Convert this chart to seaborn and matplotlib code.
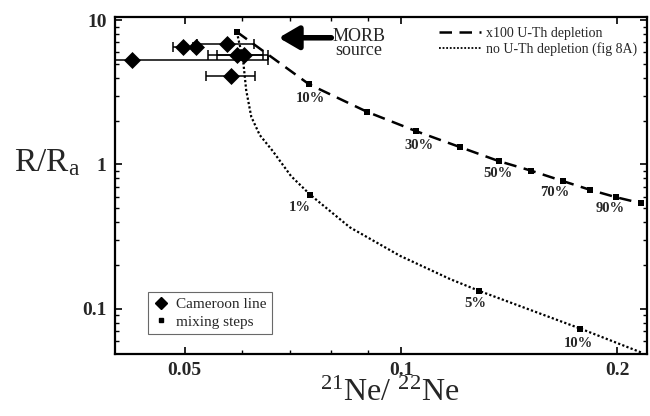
import matplotlib
matplotlib.use("Agg")
import matplotlib.pyplot as plt
import numpy as np
import pandas as pd
import seaborn as sns
from matplotlib.lines import Line2D
from matplotlib.ticker import FixedLocator, NullFormatter, FixedFormatter

# ---------------- data ----------------
# Cameroon line samples
cam_x = [0.0423, 0.0497, 0.0519, 0.0572, 0.0591, 0.0604, 0.0581]
cam_y = [5.25, 6.53, 6.53, 6.81, 5.72, 5.72, 4.08]
cam_xerr = [0.023, 0.0016, 0.0, 0.0052, 0.0052, 0.0050, 0.0045]

# x100 U-Th depletion mixing curve (steps 0..100 %)
dash_x = [0.0591, 0.0745, 0.0898, 0.1050, 0.1208, 0.1369, 0.1515, 0.1682, 0.1834, 0.1993, 0.2159]
dash_y = [8.28, 3.59, 2.31, 1.70, 1.32, 1.054, 0.908, 0.766, 0.667, 0.593, 0.539]
dash_labels = ["", "10%", "", "30%", "", "50%", "", "70%", "", "90%", ""]

# no U-Th depletion curve
dot_x = [0.0591, 0.0603, 0.0609, 0.0619, 0.0636, 0.0663, 0.0703, 0.0748,
         0.0849, 0.0997, 0.1170, 0.1284, 0.1776, 0.2164]
dot_y = [8.28, 5.28, 3.27, 2.14, 1.60, 1.24, 0.832, 0.616,
         0.367, 0.233, 0.161, 0.1334, 0.0731, 0.0497]
# mixing steps on the no-depletion curve
dot_step_x = [0.0748, 0.1284, 0.1776]
dot_step_y = [0.616, 0.1334, 0.0731]
dot_step_labels = ["1%", "5%", "10%"]

x_ticks = [0.05, 0.1, 0.2]
x_ticklabels = ["0.05", "0.1", "0.2"]
y_ticks = [0.1, 1, 10]
y_ticklabels = ["0.1", "1", "10"]

# ---------------- style ----------------
sns.set_style("ticks")
plt.rcParams["font.family"] = ["Liberation Serif", "DejaVu Serif"]
plt.rcParams["mathtext.fontset"] = "custom"
plt.rcParams["mathtext.rm"] = "Liberation Serif"
plt.rcParams["mathtext.it"] = "Liberation Serif:italic"

fig = plt.figure(figsize=(6.5, 4.16), dpi=100)
ax = fig.add_axes([115/650, 1-354/416, (647-115)/650, (354-17)/416])

ax.set_xscale("log")
ax.set_yscale("log")
ax.set_xlim(0.04, 0.22)
ax.set_ylim(0.0487, 10.5)

df_dash = pd.DataFrame({"x": dash_x, "y": dash_y})
df_dot = pd.DataFrame({"x": dot_x, "y": dot_y})
df_cam = pd.DataFrame({"x": cam_x, "y": cam_y})
df_steps = pd.DataFrame({"x": dash_x + dot_step_x, "y": dash_y + dot_step_y})

sns.lineplot(data=df_dash, x="x", y="y", sort=False, estimator=None, ax=ax,
             color="black", lw=1.8, linestyle=(0, (5, 3)))
sns.lineplot(data=df_dot, x="x", y="y", sort=False, estimator=None, ax=ax,
             color="black", lw=1.6, linestyle=(0, (1, 1)))
sns.scatterplot(data=df_steps, x="x", y="y", marker="s", s=14, color="black",
                linewidth=0, ax=ax, zorder=5)

ax.errorbar(cam_x, cam_y, xerr=cam_xerr, fmt="none", ecolor="black",
            elinewidth=1.1, capsize=3.5, capthick=1.1, zorder=4)
sns.scatterplot(data=df_cam, x="x", y="y", marker="D", s=75, color="black",
                linewidth=0, ax=ax, zorder=6)

# percent labels
dash_offsets = {"10%": (1, -14), "30%": (3, -14), "50%": (-1, -12),
                "70%": (-8, -11), "90%": (-6, -11)}
for x, y, lab in zip(dash_x, dash_y, dash_labels):
    if lab:
        ax.annotate(lab, (x, y), xytext=dash_offsets[lab], textcoords="offset pixels",
                    ha="center", va="center", fontsize=10.5, fontweight="bold")
dot_offsets = {"1%": (-11, -13), "5%": (-4, -13), "10%": (-2, -15)}
for x, y, lab in zip(dot_step_x, dot_step_y, dot_step_labels):
    ax.annotate(lab, (x, y), xytext=dot_offsets[lab], textcoords="offset pixels",
                ha="center", va="center", fontsize=10.5, fontweight="bold")

# MORB source arrow
ax.annotate("", xy=(0.0676, 7.54), xytext=(0.0800, 7.54),
            arrowprops=dict(arrowstyle="-|>,head_length=0.6,head_width=0.35",
                            lw=4, color="black", mutation_scale=20,
                            shrinkA=0, shrinkB=0))
ax.text(0.0873, 6.87, "MORB\nsource", ha="center", va="center", fontsize=13,
        linespacing=0.72)

# ticks
ax.xaxis.set_major_locator(FixedLocator(x_ticks))
ax.xaxis.set_major_formatter(FixedFormatter(x_ticklabels))
ax.xaxis.set_minor_locator(FixedLocator([0.06, 0.07, 0.08, 0.09]))
ax.xaxis.set_minor_formatter(NullFormatter())
ax.yaxis.set_major_locator(FixedLocator(y_ticks))
ax.yaxis.set_major_formatter(FixedFormatter(y_ticklabels))
ax.yaxis.set_minor_locator(FixedLocator([0.06, 0.07, 0.08, 0.09] +
                                        [0.2, 0.3, 0.4, 0.5, 0.6, 0.7, 0.8, 0.9] +
                                        [2, 3, 4, 5, 6, 7, 8, 9]))
ax.yaxis.set_minor_formatter(NullFormatter())
ax.tick_params(which="both", direction="in", top=True, right=True, color="black")
ax.tick_params(which="major", length=5, width=1.2, labelsize=14, pad=6)
ax.tick_params(which="minor", length=3, width=1.0)
for lab in ax.get_xticklabels() + ax.get_yticklabels():
    lab.set_fontweight("bold")
for sp in ax.spines.values():
    sp.set_linewidth(1.6)
    sp.set_color("black")

ax.set_xlabel(r"$^{21}$Ne/ $^{22}$Ne", fontsize=23, labelpad=2)
ax.xaxis.set_label_coords(0.517, -0.075, transform=ax.transAxes)
ax.xaxis.label.set_va("top")
ax.set_ylabel(r"R/R$_{\mathrm{a}}$", fontsize=24, rotation=0, labelpad=0)
ax.yaxis.set_label_coords(-0.128, 0.567)
ax.yaxis.label.set_ha("center")
ax.yaxis.label.set_va("center")

# legends
h1 = [Line2D([], [], color="black", lw=1.8, linestyle=(0, (5, 3))),
      Line2D([], [], color="black", lw=1.3, linestyle=(0, (1, 1)))]
leg1 = ax.legend(h1, ["x100 U-Th depletion", "no U-Th depletion (fig 8A)"],
                 loc="upper right", frameon=False, fontsize=10, handlelength=3.0,
                 handletextpad=0.4, labelspacing=0.2, borderaxespad=0.3)
ax.add_artist(leg1)
h2 = [Line2D([], [], marker="D", color="black", linestyle="none", markersize=6.5),
      Line2D([], [], marker="s", color="black", linestyle="none", markersize=3.5)]
leg2 = ax.legend(h2, ["Cameroon line", "mixing steps"], loc="lower left",
                 bbox_to_anchor=(0.062, 0.059), frameon=True, fancybox=False,
                 fontsize=11, handlelength=1.0, handletextpad=0.5,
                 labelspacing=0.25, borderpad=0.35, borderaxespad=0)
leg2.get_frame().set_edgecolor("#444444")
leg2.get_frame().set_linewidth(0.8)

fig.savefig("out.png", dpi=100)
